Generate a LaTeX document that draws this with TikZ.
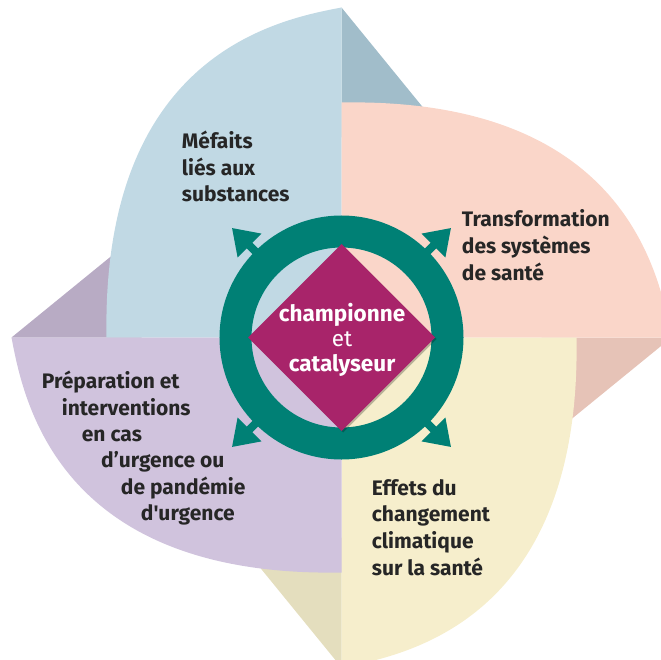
\documentclass[tikz,border=0pt]{standalone}
\usepackage{fontspec}
\newfontfamily\fira{Fira Sans}
\usetikzlibrary{arrows.meta,calc}
\definecolor{bluep}{HTML}{C1D9E4}
\definecolor{bluef}{HTML}{A1BDCA}
\definecolor{pinkp}{HTML}{FAD6C9}
\definecolor{pinkf}{HTML}{E6C3B7}
\definecolor{yellp}{HTML}{F6EECC}
\definecolor{yellf}{HTML}{E4DEBE}
\definecolor{purpp}{HTML}{D0C3DD}
\definecolor{purpf}{HTML}{B8ABC4}
\definecolor{ringc}{HTML}{008075}
\definecolor{magc}{HTML}{A8246A}
\definecolor{txt}{HTML}{262626}
\begin{document}
\begin{tikzpicture}[x=1pt,y=-1pt,
  lbl/.style={anchor=base west, inner sep=0, text=txt, font=\fira\fontsize{21}{24}\selectfont\bfseries},
  ctrb/.style={anchor=base, inner sep=0, text=white, font=\fira\fontsize{22.5}{24}\selectfont\bfseries},
  ctrr/.style={anchor=base, inner sep=0, text=white, font=\fira\fontsize{22.5}{24}\selectfont},
  arr/.style={draw=ringc, line width=8pt, -{Triangle[width=32pt,length=25pt]}},
  pics/fold/.style={code={\fill[#1] (0,-330) -- (106,-200) -- (0,-200) -- cycle;}},
  pics/petal/.style={code={\fill[#1] (0,0) -- (0,-330) .. controls (-63,-318) and (-240,-284) .. (-235,0) -- cycle;}},
]
\useasboundingbox (0,0) rectangle (661,660);
\clip (0,0) rectangle (661,660);
\coordinate (O) at (341.5,337.5);
% folds
\pic[rotate=0] at (O) {fold=bluef};
\pic[rotate=-90] at (O) {fold=pinkf};
\pic[rotate=-180] at (O) {fold=yellf};
\pic[rotate=-270] at (O) {fold=purpf};
% petals
\pic[rotate=0] at (O) {petal=bluep};
\pic[rotate=-90] at (O) {petal=pinkp};
\pic[rotate=-180] at (O) {petal=yellp};
\pic[rotate=-270] at (O) {petal=purpp};
% ring
\node[circle, draw=ringc, line width=32pt, minimum size=212pt, inner sep=0, outer sep=0] (ring) at (O) {};
\coordinate (t1) at ($(O)+(45:155pt)$);
\coordinate (t2) at ($(O)+(135:155pt)$);
\coordinate (t3) at ($(O)+(225:155pt)$);
\coordinate (t4) at ($(O)+(315:155pt)$);
\draw[arr] (ring.45) -- (t1);
\draw[arr] (ring.135) -- (t2);
\draw[arr] (ring.225) -- (t3);
\draw[arr] (ring.315) -- (t4);
% diamond
\fill[black, opacity=0.25] ($(O)+(1.5,-92)$) -- ($(O)+(95,1.5)$) -- ($(O)+(1.5,95)$) -- ($(O)+(-92,1.5)$) -- cycle;
\fill[magc] ($(O)+(0,-93.5)$) -- ($(O)+(93.5,0)$) -- ($(O)+(0,93.5)$) -- ($(O)+(-93.5,0)$) -- cycle;
\node[ctrb] (c1) at (342,321.7) {championne};
\node[ctrr] (c2) at (342,346.7) {et};
\node[ctrb] (c3) at (342,371.7) {catalyseur};
% labels
\node[lbl] (m1) at (181.7,149) {Méfaits};
\node[lbl] (m2) at (181.7,175.5) {liés aux};
\node[lbl] (m3) at (181.7,202) {substances};
\node[lbl] (s1) at (461.7,226.7) {Transformation};
\node[lbl] (s2) at (461.7,253.3) {des systèmes};
\node[lbl] (s3) at (461.7,280) {de santé};
\node[lbl] (p1) at (41.7,388.3) {Préparation et};
\node[lbl] (p2) at (61.7,415) {interventions};
\node[lbl] (p3) at (81.7,441) {en cas};
\node[lbl] (p4) at (101,467.3) {d’urgence ou};
\node[lbl] (p5) at (120.7,494) {de pandémie};
\node[lbl] (p6) at (140.7,520) {d'urgence};
\node[lbl] (e1) at (371.7,495.7) {Effets du};
\node[lbl] (e2) at (371.7,521) {changement};
\node[lbl] (e3) at (371.7,548.3) {climatique};
\node[lbl] (e4) at (371.7,575) {sur la santé};
\end{tikzpicture}
\end{document}
